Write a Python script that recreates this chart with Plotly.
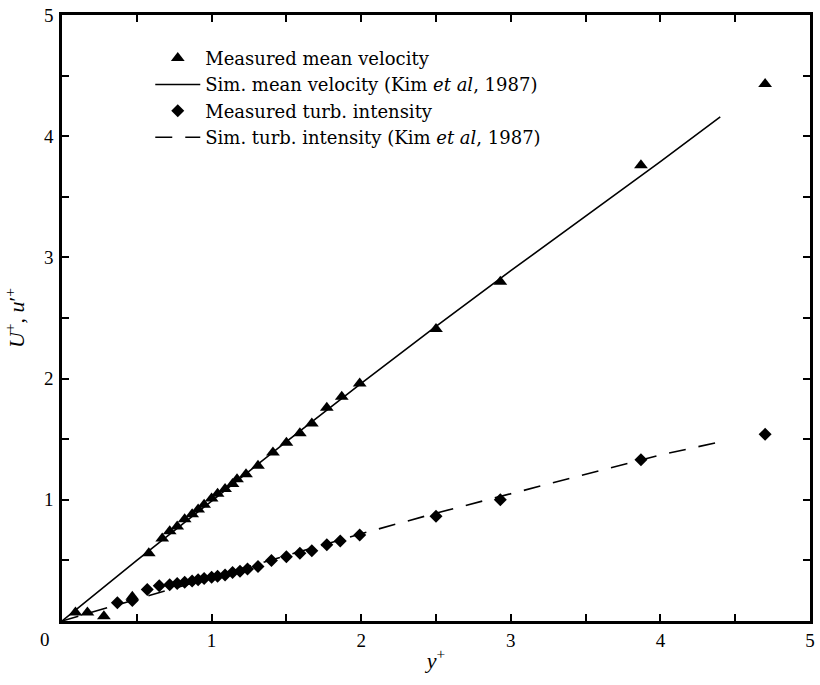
import plotly.graph_objects as go

# ---- data ----
meas_mean_y = [0.09, 0.17, 0.28, 0.47, 0.58, 0.67, 0.72, 0.77, 0.82, 0.87, 0.91, 0.95,
               1.00, 1.04, 1.09, 1.14, 1.17, 1.23, 1.31, 1.41, 1.50, 1.59, 1.67, 1.77,
               1.87, 1.99, 2.50, 2.93, 3.87, 4.70]
meas_mean_U = [0.07, 0.07, 0.04, 0.20, 0.56, 0.68, 0.74, 0.78, 0.84, 0.88, 0.92, 0.96,
               1.01, 1.05, 1.09, 1.13, 1.17, 1.21, 1.28, 1.39, 1.47, 1.55, 1.63, 1.76,
               1.85, 1.96, 2.41, 2.80, 3.76, 4.43]

sim_mean_y = [0.0, 0.5, 1.0, 1.5, 2.0, 2.5, 3.0, 3.5, 4.0, 4.4]
sim_mean_U = [0.0, 0.50, 0.99, 1.48, 1.96, 2.43, 2.89, 3.34, 3.79, 4.16]

meas_turb_y = [0.37, 0.47, 0.57, 0.65, 0.72, 0.77, 0.82, 0.87, 0.91, 0.95, 1.00, 1.04,
               1.09, 1.14, 1.19, 1.24, 1.31, 1.40, 1.50, 1.59, 1.67, 1.77, 1.86, 1.99,
               2.50, 2.93, 3.87, 4.70]
meas_turb_u = [0.15, 0.17, 0.26, 0.29, 0.30, 0.31, 0.32, 0.33, 0.34, 0.35, 0.36, 0.37,
               0.38, 0.40, 0.41, 0.43, 0.45, 0.50, 0.53, 0.56, 0.58, 0.63, 0.66, 0.71,
               0.865, 1.00, 1.33, 1.54]

sim_turb_y = [0.0, 0.5, 1.0, 1.5, 2.0, 2.5, 3.0, 3.5, 4.0, 4.37]
sim_turb_u = [0.0, 0.18, 0.36, 0.54, 0.72, 0.89, 1.05, 1.21, 1.37, 1.47]

tick_vals = [1, 2, 3, 4, 5]
tick_text = ["1", "2", "3", "4", "5"]

SERIF = "Liberation Serif"
LEGEND_FONT = "DejaVu Serif"

fig = go.Figure()
fig.add_trace(go.Scatter(
    x=meas_mean_y, y=meas_mean_U, mode="markers", name="Measured mean velocity",
    marker=dict(symbol="triangle-up", size=12, color="black")))
fig.add_trace(go.Scatter(
    x=sim_mean_y, y=sim_mean_U, mode="lines",
    name="Sim. mean velocity (Kim <i>et al</i>, 1987)",
    line=dict(color="black", width=1.6)))
fig.add_trace(go.Scatter(
    x=meas_turb_y, y=meas_turb_u, mode="markers", name="Measured turb. intensity",
    marker=dict(symbol="diamond", size=10, color="black")))
fig.add_trace(go.Scatter(
    x=sim_turb_y, y=sim_turb_u, mode="lines",
    name="Sim. turb. intensity (Kim <i>et al</i>, 1987)",
    line=dict(color="black", width=1.6, dash="17px,13px")))

axis_common = dict(
    range=[0, 5], tickvals=tick_vals, ticktext=tick_text,
    ticks="inside", ticklen=7, tickwidth=1.5, tickcolor="black",
    showline=True, linecolor="black", linewidth=2.5, mirror="ticks",
    showgrid=False, zeroline=False,
    tickfont=dict(family=SERIF, size=19, color="black"),
    minor=dict(ticks="inside", ticklen=7, tickwidth=1.5, tickcolor="black",
               tick0=0, dtick=0.5, showgrid=False),
)

fig.update_layout(
    width=820, height=685,
    margin=dict(l=62, r=5, t=14, b=64),
    paper_bgcolor="white", plot_bgcolor="white",
    font=dict(family=SERIF, size=18, color="black"),
    xaxis=dict(**axis_common, ticklabelstandoff=0,
               title=dict(text="<i>y</i><sup>+</sup>", font=dict(family=SERIF, size=22),
                          standoff=4)),
    yaxis=dict(**axis_common, ticklabelstandoff=2,
               title=dict(text="<i>U</i><sup>+</sup>, <i>u</i>′<sup>+</sup>",
                          font=dict(family=SERIF, size=22), standoff=14)),
    legend=dict(x=0.118, y=0.959, xanchor="left", yanchor="top",
                bgcolor="rgba(0,0,0,0)", borderwidth=0, itemwidth=45,
                font=dict(family=LEGEND_FONT, size=18, color="black"),
                traceorder="normal"),
    showlegend=True,
)

fig.add_annotation(text="0", xref="paper", yref="paper", x=0, y=0,
                   xanchor="right", yanchor="top", xshift=-10, yshift=-6,
                   showarrow=False, font=dict(family=SERIF, size=19, color="black"))

fig.write_html("out.html")
